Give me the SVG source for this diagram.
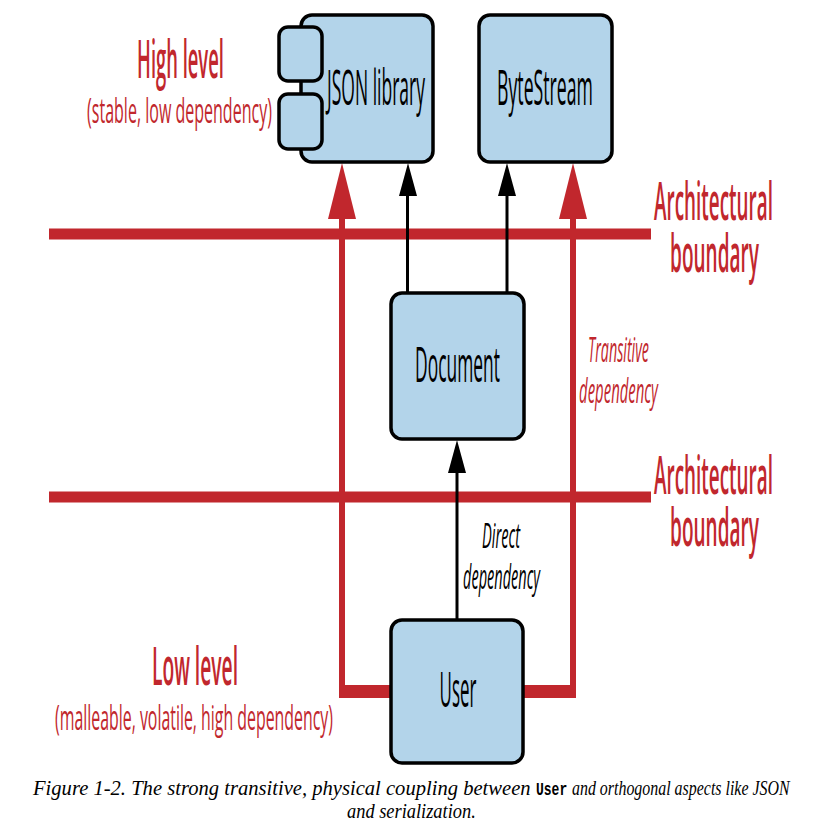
<svg xmlns="http://www.w3.org/2000/svg" width="824" height="828" viewBox="0 0 824 828">
<style>
.box{fill:#b3d4ea;stroke:#000;stroke-width:3.5}
text{text-anchor:middle}
.nt{font-family:"Open Sans","Noto Sans",sans-serif;font-size:50px;font-weight:500;fill:#000}
.rh{font-family:"Open Sans","Noto Sans",sans-serif;font-size:52px;font-weight:600;fill:#c1272d}
.rs{font-family:"Open Sans","Noto Sans",sans-serif;font-size:34px;font-weight:500;fill:#c1272d}
.ri{font-family:"Open Sans","Noto Sans",sans-serif;font-size:35px;font-weight:500;font-style:italic;fill:#c1272d}
.bi{font-family:"Open Sans","Noto Sans",sans-serif;font-size:35px;font-weight:500;font-style:italic;fill:#000}
.red{stroke:#c1272d;fill:none}
.blk{stroke:#000;stroke-width:3;fill:none}
.cap{font-family:"Liberation Serif","Times New Roman",serif;font-size:21px;font-style:italic;fill:#000;text-anchor:start}
.mono{font-family:"Liberation Mono","Courier New",monospace;font-size:19px;font-weight:bold;font-style:normal;fill:#000;text-anchor:start}
</style>

<g id="boundaries">
<line class="red" x1="49" y1="234" x2="651" y2="234" stroke-width="11"/>
<line class="red" x1="49" y1="497" x2="651" y2="497" stroke-width="11"/>
</g>

<g id="connectors">
<line class="red" x1="342" y1="215" x2="342" y2="698" stroke-width="6"/>
<rect x="339" y="685" width="54" height="13" fill="#c1272d"/>
<polygon points="328,219 356,219 342,163" fill="#c1272d"/>
<line class="red" x1="573" y1="215" x2="573" y2="698" stroke-width="6"/>
<rect x="521" y="685" width="55" height="13" fill="#c1272d"/>
<polygon points="559,219 587,219 573,163" fill="#c1272d"/>
<line class="blk" x1="407.5" y1="293" x2="407.5" y2="192"/>
<polygon points="399,196 417,196 408,163" fill="#000"/>
<line class="blk" x1="507" y1="293" x2="507" y2="192"/>
<polygon points="498,196 516,196 507,163" fill="#000"/>
<line class="blk" x1="457" y1="620" x2="457" y2="468"/>
<polygon points="448,473 466,473 457,440" fill="#000"/>
</g>

<g id="json-library">
<rect class="box" x="301" y="15" width="132" height="147" rx="11"/>
<rect class="box" x="279" y="27" width="43" height="54" rx="9"/>
<rect class="box" x="279" y="94" width="43" height="55" rx="9"/>
<text class="nt" transform="translate(376,105) scale(0.4,1)" textLength="245" lengthAdjust="spacingAndGlyphs">JSON library</text>
</g>

<g id="bytestream">
<rect class="box" x="479" y="15" width="133" height="147" rx="11"/>
<text class="nt" transform="translate(545,105) scale(0.4,1)" textLength="240" lengthAdjust="spacingAndGlyphs">ByteStream</text>
</g>

<g id="document">
<rect class="box" x="391" y="293" width="133" height="146" rx="11"/>
<text class="nt" transform="translate(457.5,382) scale(0.4,1)" textLength="212" lengthAdjust="spacingAndGlyphs">Document</text>
</g>

<g id="user">
<rect class="box" x="391" y="620" width="132" height="143" rx="11"/>
<text class="nt" transform="translate(458,707) scale(0.4,1)" textLength="92" lengthAdjust="spacingAndGlyphs">User</text>
</g>

<g id="labels">
<text class="rh" transform="translate(180.5,78) scale(0.4,1)" textLength="217" lengthAdjust="spacingAndGlyphs">High level</text>
<text class="rs" transform="translate(179.5,123) scale(0.4,1)" textLength="462" lengthAdjust="spacingAndGlyphs">(stable, low dependency)</text>
<text class="rh" transform="translate(713.5,220) scale(0.4,1)"><tspan x="0" y="0" textLength="297" lengthAdjust="spacingAndGlyphs">Architectural</tspan><tspan x="2.5" y="52" textLength="222" lengthAdjust="spacingAndGlyphs">boundary</tspan></text>
<text class="rh" transform="translate(713.5,494) scale(0.4,1)"><tspan x="0" y="0" textLength="297" lengthAdjust="spacingAndGlyphs">Architectural</tspan><tspan x="2.5" y="52" textLength="222" lengthAdjust="spacingAndGlyphs">boundary</tspan></text>
<text class="ri" transform="translate(618.5,362) scale(0.4,1)"><tspan x="0" y="0" textLength="152" lengthAdjust="spacingAndGlyphs">Transitive</tspan><tspan x="0" y="41" textLength="197" lengthAdjust="spacingAndGlyphs">dependency</tspan></text>
<text class="bi" transform="translate(501,548) scale(0.4,1)"><tspan x="0" y="0" textLength="95" lengthAdjust="spacingAndGlyphs">Direct</tspan><tspan x="1.25" y="41" textLength="192" lengthAdjust="spacingAndGlyphs">dependency</tspan></text>
<text class="rh" transform="translate(195,685) scale(0.4,1)" textLength="215" lengthAdjust="spacingAndGlyphs">Low level</text>
<text class="rs" transform="translate(194,730) scale(0.4,1)" textLength="695" lengthAdjust="spacingAndGlyphs">(malleable, volatile, high dependency)</text>
</g>

<g id="caption">
<text class="cap" transform="translate(33,795) scale(0.8,1)" textLength="622" lengthAdjust="spacingAndGlyphs">Figure 1-2. The strong transitive, physical coupling between</text>
<text class="mono" transform="translate(536,795) scale(0.8,1)" textLength="39" lengthAdjust="spacingAndGlyphs">User</text>
<text class="cap" transform="translate(572,795) scale(0.8,1)" textLength="272" lengthAdjust="spacingAndGlyphs">and orthogonal aspects like JSON</text>
<text class="cap" transform="translate(347,818) scale(0.8,1)" textLength="161" lengthAdjust="spacingAndGlyphs">and serialization.</text>
</g>
</svg>
